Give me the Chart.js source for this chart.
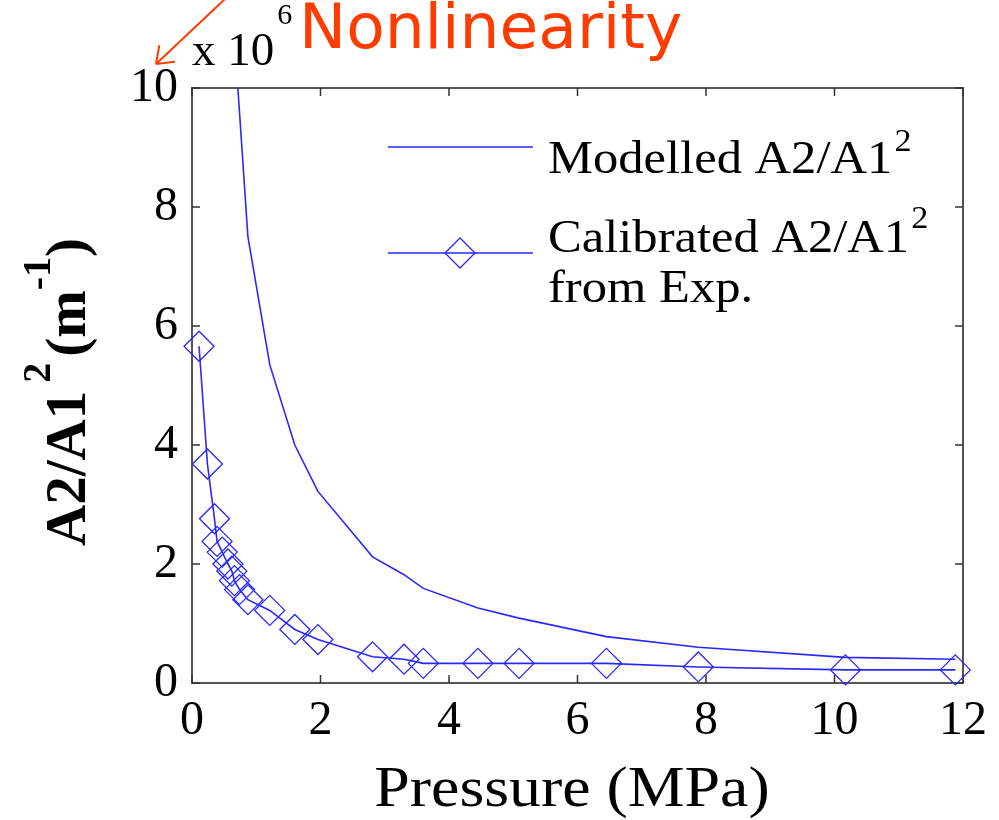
<!DOCTYPE html>
<html>
<head>
<meta charset="utf-8">
<title>A2/A1 vs Pressure</title>
<script src="https://cdn.jsdelivr.net/npm/chart.js@4.4.1/dist/chart.umd.min.js"></script>
<style>
  html, body { margin: 0; padding: 0; background: #fff; }
  #wrap { width: 999px; height: 820px; }
</style>
</head>
<body>
<div id="wrap"><canvas id="chart1" width="999" height="820"></canvas></div>
<script>
// ratio values are in units of 10^6 m^-1 (axis carries the "x 10^6" factor)
const modelledPressure = [0.62, 0.87, 1.21, 1.60, 1.96, 2.81, 3.30, 3.60, 4.45, 5.09, 6.45, 7.88, 10.17, 11.88];
const modelledRatio    = [11.5, 7.5, 5.35, 4.0, 3.22, 2.12, 1.82, 1.59, 1.26, 1.09, 0.78, 0.60, 0.43, 0.40];

const calibratedPressure = [0.11, 0.24, 0.35, 0.39, 0.47, 0.56, 0.62, 0.66, 0.74, 0.87, 1.21, 1.60, 1.96,
                            2.81, 3.30, 3.60, 4.45, 5.09, 6.45, 7.88, 10.17, 11.88];
const calibratedRatio    = [5.66, 3.68, 2.76, 2.38, 2.20, 2.00, 1.88, 1.72, 1.57, 1.40, 1.22, 0.90, 0.73,
                            0.44, 0.40, 0.33, 0.33, 0.33, 0.33, 0.27, 0.22, 0.22];

const xTicks = [0, 2, 4, 6, 8, 10, 12];
const yTicks = [0, 2, 4, 6, 8, 10];

const blue = 'rgb(40, 40, 255)';
const orange = '#ff3c00';
const serif = "'Liberation Serif', 'Times New Roman', serif";

function toPoints(xs, ys) {
  return xs.map((x, i) => ({ x: x, y: ys[i] }));
}

// frame round the plot area with ticks pointing inwards, matlab style
const boxTicks = {
  id: 'boxTicks',
  beforeDatasetsDraw(chart) {
    const { ctx, chartArea: a, scales: { x, y } } = chart;
    ctx.save();
    ctx.strokeStyle = '#555';
    ctx.lineWidth = 2;
    ctx.strokeRect(a.left, a.top, a.right - a.left, a.bottom - a.top);
    ctx.strokeStyle = '#333';
    ctx.lineWidth = 1.5;
    ctx.beginPath();
    x.ticks.forEach(t => {
      const px = x.getPixelForValue(t.value);
      ctx.moveTo(px, a.bottom); ctx.lineTo(px, a.bottom - 8);
      ctx.moveTo(px, a.top); ctx.lineTo(px, a.top + 8);
    });
    y.ticks.forEach(t => {
      const py = y.getPixelForValue(t.value);
      ctx.moveTo(a.left, py); ctx.lineTo(a.left + 8, py);
      ctx.moveTo(a.right, py); ctx.lineTo(a.right - 8, py);
    });
    ctx.stroke();
    ctx.restore();
  }
};

// draws text pieces one after another, some raised as superscripts
function drawRuns(ctx, runs, x, y, stretch) {
  stretch = stretch || 1;
  ctx.save();
  ctx.translate(x, y);
  ctx.scale(stretch, 1);
  let cx = 0;
  runs.forEach(r => {
    ctx.font = r.font;
    ctx.fillText(r.text, cx, -(r.rise || 0));
    cx += ctx.measureText(r.text).width + (r.gap || 0);
  });
  ctx.restore();
}

const labels = {
  id: 'labels',
  afterDraw(chart) {
    const ctx = chart.ctx;
    const ds = chart.data.datasets;
    const a = chart.chartArea;
    ctx.save();
    ctx.fillStyle = '#000';
    ctx.textBaseline = 'alphabetic';
    ctx.textAlign = 'left';

    // y axis title, rotated
    ctx.save();
    ctx.translate(85, 546);
    ctx.rotate(-Math.PI / 2);
    drawRuns(ctx, [
      { text: 'A2/A1', font: 'bold 57px ' + serif, gap: 8 },
      { text: '2', font: 'bold 40px ' + serif, rise: 35, gap: 6 },
      { text: '(m', font: 'bold 57px ' + serif },
      { text: '-1', font: 'bold 40px ' + serif, rise: 35 },
      { text: ')', font: 'bold 57px ' + serif }
    ], 0, 0);
    ctx.restore();

    // x axis title
    ctx.save();
    ctx.font = '57px ' + serif;
    ctx.textAlign = 'center';
    ctx.translate(572, 806);
    ctx.scale(1.12, 1);
    ctx.fillText('Pressure (MPa)', 0, 0);
    ctx.restore();

    // exponent of the y axis
    drawRuns(ctx, [
      { text: 'x 10', font: '47px ' + serif, gap: 3 },
      { text: '6', font: '30px ' + serif, rise: 41 }
    ], a.left, 65);

    // legend
    const lx0 = 388, lx1 = 533;
    ctx.strokeStyle = ds[0].borderColor;
    ctx.lineWidth = ds[0].borderWidth;
    ctx.beginPath();
    ctx.moveTo(lx0, 147); ctx.lineTo(lx1, 147);
    ctx.stroke();
    ctx.strokeStyle = ds[1].borderColor;
    ctx.lineWidth = ds[1].borderWidth;
    ctx.beginPath();
    ctx.moveTo(lx0, 253); ctx.lineTo(lx1, 253);
    ctx.stroke();
    ctx.lineWidth = ds[1].pointBorderWidth;
    ctx.strokeStyle = ds[1].pointBorderColor;
    ctx.fillStyle = 'rgba(0,0,0,0)';
    Chart.helpers.drawPoint(ctx, { pointStyle: 'rectRot', radius: ds[1].pointRadius, borderWidth: ds[1].pointBorderWidth, rotation: 0 }, 460, 253);

    ctx.fillStyle = '#000';
    drawRuns(ctx, [
      { text: 'Modelled A2/A1', font: '46px ' + serif, gap: 2 },
      { text: '2', font: '31px ' + serif, rise: 22 }
    ], 548, 173, 1.1);
    drawRuns(ctx, [
      { text: 'Calibrated A2/A1', font: '46px ' + serif, gap: 2 },
      { text: '2', font: '31px ' + serif, rise: 24 }
    ], 548, 252, 1.1);
    drawRuns(ctx, [{ text: 'from Exp.', font: '46px ' + serif }], 548, 302, 1.1);

    // annotation with arrow
    ctx.fillStyle = orange;
    ctx.font = '63px "DejaVu Sans", sans-serif';
    ctx.fillText('Nonlinearity', 299, 48);
    const tipX = 156, tipY = 64, fromX = 226, fromY = -2;
    const ang = Math.atan2(fromY - tipY, fromX - tipX);
    ctx.strokeStyle = orange;
    ctx.lineWidth = 2;
    ctx.beginPath();
    ctx.moveTo(fromX, fromY); ctx.lineTo(tipX, tipY);
    [-0.64, 0.64].forEach(d => {
      ctx.moveTo(tipX, tipY);
      ctx.lineTo(tipX + 19 * Math.cos(ang + d), tipY + 19 * Math.sin(ang + d));
    });
    ctx.stroke();
    ctx.restore();
  }
};

new Chart(document.getElementById('chart1'), {
  type: 'line',
  data: {
    datasets: [{
      label: 'Modelled A2/A1²',
      data: toPoints(modelledPressure, modelledRatio),
      borderColor: blue,
      borderWidth: 1.6,
      pointRadius: 0,
      tension: 0
    }, {
      label: 'Calibrated A2/A1² from Exp.',
      data: toPoints(calibratedPressure, calibratedRatio),
      borderColor: blue,
      borderWidth: 1.6,
      backgroundColor: 'rgba(0,0,0,0)',
      pointStyle: 'rectRot',
      pointRadius: 15,
      pointBorderColor: blue,
      pointBorderWidth: 1.3,
      pointBackgroundColor: 'rgba(0,0,0,0)',
      tension: 0,
      clip: false
    }]
  },
  options: {
    responsive: false,
    animation: false,
    devicePixelRatio: 1,
    layout: { padding: { top: 88, right: 36, left: 0, bottom: 0 } },
    plugins: { legend: { display: false }, tooltip: { enabled: false } },
    scales: {
      x: {
        type: 'linear',
        min: 0,
        max: 12,
        afterBuildTicks: s => { s.ticks = xTicks.map(v => ({ value: v })); },
        afterFit: s => { s.height = 137; },
        grid: { display: false, drawTicks: false },
        border: { display: false },
        ticks: { padding: 10, color: '#000', font: { family: serif, size: 48 }, maxRotation: 0 },
        title: { display: false, text: 'Pressure (MPa)' }
      },
      y: {
        type: 'linear',
        min: 0,
        max: 10,
        afterBuildTicks: s => { s.ticks = yTicks.map(v => ({ value: v })); },
        afterFit: s => { s.width = 192; },
        grid: { display: false, drawTicks: false },
        border: { display: false },
        ticks: { padding: 14, color: '#000', font: { family: serif, size: 48 } },
        title: { display: false, text: 'A2/A1² (m⁻¹)' }
      }
    }
  },
  plugins: [boxTicks, labels]
});
</script>
</body>
</html>
